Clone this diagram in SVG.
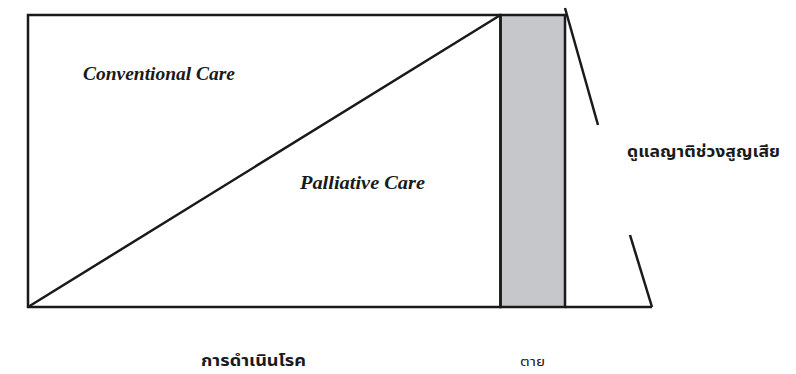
<svg xmlns="http://www.w3.org/2000/svg" width="796" height="374" viewBox="0 0 796 374">
<style>
.ln{stroke:#1a1a1a;stroke-width:2.5;fill:none;stroke-linecap:butt}
.it{font-family:"Liberation Serif",serif;font-style:italic;font-weight:bold;font-size:18px;fill:#1a1a1a}
.th{font-family:"Noto Sans Thai","Noto Sans","DejaVu Sans",sans-serif;font-weight:bold;font-size:15px;fill:#1a1a1a}
</style>
<rect width="796" height="374" fill="#fff"/>
<g id="connectors">
<rect id="death-band" x="500.5" y="15" width="64.5" height="292" style="fill:#c6c7ca;stroke:#1a1a1a;stroke-width:2.5"/>
<rect x="28" y="15" width="472.5" height="292" class="ln"/>
<line x1="28" y1="307" x2="500.5" y2="15" class="ln"/>
<line x1="565" y1="307" x2="652" y2="307" class="ln"/>
<line x1="565" y1="8" x2="598" y2="125" class="ln"/>
<line x1="630" y1="235" x2="652" y2="307" class="ln"/>
</g>
<g id="conventional"><text class="it" x="83" y="80" textLength="152" lengthAdjust="spacingAndGlyphs">Conventional Care</text></g>
<g id="palliative"><text class="it" x="300" y="189" textLength="125" lengthAdjust="spacingAndGlyphs">Palliative Care</text></g>
<g id="bereavement"><text class="th" x="627" y="157" textLength="153" lengthAdjust="spacingAndGlyphs">ดูแลญาติช่วงสูญเสีย</text></g>
<g id="progression"><text class="th" x="201" y="366" textLength="105" lengthAdjust="spacingAndGlyphs">การดำเนินโรค</text></g>
<g id="death"><text class="th" x="520" y="366" style="font-weight:normal;font-size:13px" textLength="25" lengthAdjust="spacingAndGlyphs">ตาย</text></g>
</svg>
